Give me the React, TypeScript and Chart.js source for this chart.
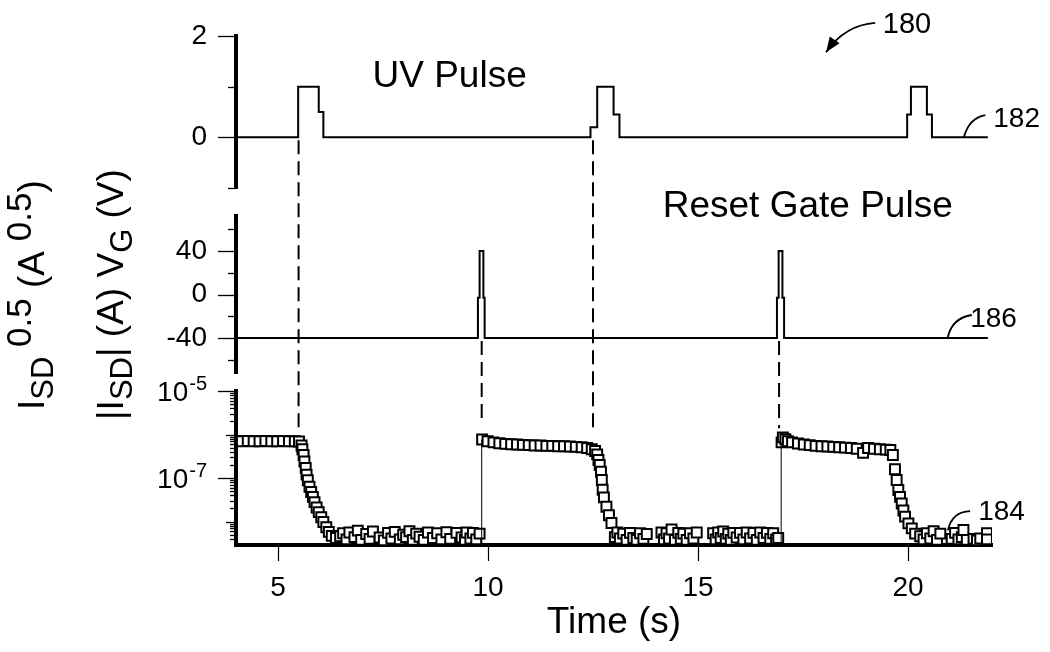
import { useEffect, useRef } from 'react';
import { Chart, registerables } from 'chart.js';

Chart.register(...registerables);

const FONT = "'Liberation Sans', Arial, Helvetica, sans-serif";
Chart.defaults.font.family = FONT;
Chart.defaults.color = '#000';

// ---------------- data ----------------
const xTickValues = [5, 10, 15, 20];

// UV pulse (top panel)
const uvTime = [4.0, 5.48, 5.48, 5.97, 5.97, 6.08, 6.08, 12.44, 12.44, 12.6, 12.6, 12.99, 12.99, 13.13, 13.13, 19.98, 19.98, 20.07, 20.07, 20.45, 20.45, 20.57, 20.57, 21.9];
const uvLevel = [0, 0, 1, 1, 0.5, 0.5, 0, 0, 0.2, 0.2, 1, 1, 0.45, 0.45, 0, 0, 0.45, 0.45, 1, 1, 0.45, 0.45, 0, 0];
const uvTickValues = [0, 2];
const uvMinorTicks = [-1, 1];

// Reset gate pulse V_G (middle panel)
const vgTime = [4.0, 9.76, 9.76, 9.8, 9.8, 9.89, 9.89, 9.92, 9.92, 16.88, 16.88, 16.92, 16.92, 17.01, 17.01, 17.05, 17.05, 21.9];
const vgLevel = [-40, -40, -3, -3, 40, 40, -3, -3, -40, -40, -3, -3, 40, 40, -3, -3, -40, -40];
const vgTickValues = [-40, 0, 40];
const vgMinorTicks = [-60, -20, 20, 60];

// |I_SD| (bottom panel, log)
const iTime = [
  4.0, 4.14, 4.28, 4.42, 4.56, 4.7, 4.84, 4.98, 5.12, 5.26, 5.4, 5.5,
  5.56, 5.58, 5.61, 5.63, 5.66, 5.68, 5.71, 5.75, 5.79, 5.83, 5.87, 5.92, 5.97, 6.03, 6.08, 6.15, 6.21, 6.28, 6.38,
  6.48, 6.55, 6.63, 6.7, 6.82, 6.9, 6.98, 7.1, 7.18, 7.26, 7.42, 7.52, 7.62, 7.7, 7.78, 7.9, 7.98, 8.05, 8.13, 8.21, 8.29, 8.37, 8.47, 8.57, 8.69, 8.79, 8.89, 9.01, 9.1, 9.25, 9.37, 9.45, 9.49, 9.58, 9.64, 9.72, 9.8,
  9.86, 9.99, 10.13, 10.27, 10.41, 10.55, 10.69, 10.83, 10.97, 11.11, 11.25, 11.39, 11.53, 11.67, 11.81, 11.95, 12.09, 12.23, 12.36, 12.47, 12.55,
  12.6, 12.63, 12.66, 12.69, 12.71, 12.73, 12.76, 12.82, 12.88, 12.94,
  13.02, 13.08, 13.14, 13.22, 13.3, 13.38, 13.46, 13.54, 13.62, 13.7, 13.78, 14.13, 14.19, 14.25, 14.31, 14.37, 14.45, 14.53, 14.59, 14.65, 14.73, 14.81, 14.89, 14.97,
  15.36, 15.42, 15.48, 15.54, 15.6, 15.66, 15.72, 15.78, 15.84, 15.92, 16.0, 16.08, 16.16, 16.24, 16.32, 16.4, 16.48, 16.56, 16.64, 16.72, 16.79, 16.86, 16.91,
  16.99, 17.02, 17.08, 17.14, 17.24, 17.38, 17.52, 17.66, 17.8, 17.94, 18.08, 18.22, 18.36, 18.5, 18.64, 18.78, 18.93, 19.05, 19.19, 19.33, 19.47, 19.58, 19.64,
  19.69, 19.73, 19.77, 19.81, 19.85, 19.89, 19.93, 20.01, 20.09, 20.17, 20.29,
  20.37, 20.45, 20.53, 20.61, 20.69, 20.77, 21.04, 21.12, 21.2, 21.28, 21.32, 21.4, 21.56, 21.64, 21.72, 21.88, 21.88,
];
const iCurrent = [
  7.1e-7, 7.0e-7, 7.1e-7, 7.0e-7, 7.0e-7, 7.1e-7, 7.0e-7, 7.0e-7, 7.1e-7, 7.0e-7, 7.0e-7, 6.9e-7,
  5.6e-7, 4.6e-7, 3.4e-7, 2.4e-7, 1.7e-7, 1.2e-7, 8.9e-8, 6.3e-8, 4.8e-8, 3.7e-8, 2.8e-8, 2.1e-8, 1.65e-8, 1.26e-8, 9.8e-9, 7.4e-9, 5.8e-9, 4.7e-9, 4.2e-9,
  4.6e-9, 5.4e-9, 3.9e-9, 5.6e-9, 4.4e-9, 6.2e-9, 3.8e-9, 5.2e-9, 4.0e-9, 5.9e-9, 4.3e-9, 3.7e-9, 5.5e-9, 4.1e-9, 5.8e-9, 3.9e-9, 5.0e-9, 4.4e-9, 6.0e-9, 3.8e-9, 5.3e-9, 4.5e-9, 3.8e-9, 5.6e-9, 4.2e-9, 5.4e-9, 3.9e-9, 5.7e-9, 4.0e-9, 5.5e-9, 4.3e-9, 3.8e-9, 5.6e-9, 4.1e-9, 5.5e-9, 3.9e-9, 5.3e-9,
  7.7e-7, 7.0e-7, 6.6e-7, 6.3e-7, 6.1e-7, 6.0e-7, 5.9e-7, 5.8e-7, 5.7e-7, 5.6e-7, 5.6e-7, 5.5e-7, 5.5e-7, 5.4e-7, 5.4e-7, 5.3e-7, 5.2e-7, 5.1e-7, 4.9e-7, 4.6e-7, 4.2e-7,
  3.5e-7, 2.6e-7, 2.0e-7, 1.4e-7, 9.0e-8, 5.4e-8, 3.6e-8, 2.2e-8, 1.4e-8, 9.3e-9,
  4.4e-9, 5.6e-9, 4.1e-9, 5.3e-9, 3.8e-9, 5.5e-9, 4.2e-9, 3.8e-9, 5.4e-9, 4.0e-9, 5.2e-9, 5.6e-9, 3.9e-9, 5.4e-9, 4.1e-9, 6.6e-9, 3.8e-9, 5.5e-9, 4.0e-9, 5.3e-9, 3.8e-9, 5.4e-9, 4.1e-9, 5.6e-9,
  5.4e-9, 3.9e-9, 5.6e-9, 4.2e-9, 5.9e-9, 4.0e-9, 5.3e-9, 3.8e-9, 5.5e-9, 4.3e-9, 5.5e-9, 3.9e-9, 5.6e-9, 4.1e-9, 5.5e-9, 3.8e-9, 5.6e-9, 4.2e-9, 5.5e-9, 4.0e-9, 5.4e-9, 3.9e-9, 4.2e-9,
  6.6e-7, 8.6e-7, 7.8e-7, 7.0e-7, 6.6e-7, 6.2e-7, 5.9e-7, 5.7e-7, 5.5e-7, 5.4e-7, 5.3e-7, 5.2e-7, 5.1e-7, 5.0e-7, 4.9e-7, 4.7e-7, 3.8e-7, 4.9e-7, 4.7e-7, 4.6e-7, 4.5e-7, 4.4e-7, 3.4e-7,
  1.6e-7, 9.0e-8, 5.3e-8, 3.7e-8, 2.6e-8, 1.8e-8, 1.3e-8, 9.1e-9, 7.0e-9, 5.3e-9, 4.6e-9,
  3.9e-9, 5.4e-9, 4.1e-9, 6.0e-9, 3.8e-9, 5.3e-9, 4.0e-9, 5.5e-9, 3.9e-9, 4.4e-9, 6.4e-9, 3.8e-9, 4.0e-9, 3.7e-9, 4.1e-9, 5.4e-9, 3.9e-9,
];
const resetTime = [9.85, 16.98];
const resetPeak = [7.7e-7, 6.6e-7];
const iLabelExponents = [-5, -7];
const I_MIN = 2.9e-9;
const I_MAX = 1e-5;

// ---------------- annotations ----------------
type Seg = { t: string; k: 'n' | 'sub' | 'sup' };
const titleOuter: Seg[] = [
  { t: 'I', k: 'n' }, { t: 'SD', k: 'sub' }, { t: ' 0.5', k: 'sup' }, { t: ' (A', k: 'n' }, { t: ' 0.5', k: 'sup' }, { t: ')', k: 'n' },
];
const titleInner: Seg[] = [
  { t: '|I', k: 'n' }, { t: 'SD', k: 'sub' }, { t: '|', k: 'n' }, { t: ' (A) V', k: 'n' }, { t: 'G', k: 'sub' }, { t: ' (V)', k: 'n' },
];

const notes = [
  { text: 'UV Pulse', x: 7.25, axis: 'yUV', y: 1.0, size: 37 },
  { text: 'Reset Gate Pulse', x: 14.16, axis: 'yVG', y: 71, size: 37 },
  { text: '180', x: 19.4, axis: 'yUV', y: 2.06, size: 29 },
  { text: '182', x: 22.03, axis: 'yUV', y: 0.2, size: 28 },
  { text: '186', x: 21.48, axis: 'yVG', y: -30, size: 28 },
  { text: '184', x: 21.67, axis: 'yI', y: 1.07e-8, size: 28 },
];
const leaders = [
  { axis: 'yUV', from: [21.33, 0], ctrl: [21.45, 0.38], to: [21.84, 0.44], arrow: false },
  { axis: 'yVG', from: [20.95, -39], ctrl: [21.05, -21.6], to: [21.52, -18.8], arrow: false },
  { axis: 'yI', from: [20.95, 6.3e-9], ctrl: [21.05, 1.7e-8], to: [21.48, 1.74e-8], arrow: false },
  { axis: 'yUV', from: [19.22, 2.26], ctrl: [18.5, 2.22], to: [18.05, 1.68], arrow: true },
];
const connectors = [
  { x: 5.49, fromAxis: 'yUV', from: 0, toAxis: 'yI', to: 1.3e-6 },
  { x: 9.85, fromAxis: 'yVG', from: -40, toAxis: 'yI', to: 1.9e-6 },
  { x: 12.5, fromAxis: 'yUV', from: 0, toAxis: 'yI', to: 1.1e-6 },
  { x: 16.93, fromAxis: 'yVG', from: -40, toAxis: 'yI', to: 1.4e-6 },
];

function drawRich(ctx: any, segs: Seg[], x: number, y: number) {
  ctx.save();
  ctx.translate(x, y);
  ctx.rotate(-Math.PI / 2);
  ctx.textAlign = 'left';
  ctx.textBaseline = 'alphabetic';
  let cx = 0;
  for (const s of segs) {
    const size = s.k === 'n' ? 37 : s.k === 'sub' ? 31 : 35;
    const dy = s.k === 'n' ? 0 : s.k === 'sub' ? 9 : -13;
    ctx.font = `${size}px ${FONT}`;
    ctx.fillText(s.t, cx, dy);
    cx += ctx.measureText(s.t).width;
  }
  ctx.restore();
}

const overlayPlugin = {
  id: 'overlay',
  afterDraw(chart: any) {
    const { ctx, chartArea, scales } = chart;
    const xs = scales.x;
    const S: any = { yUV: scales.yUV, yVG: scales.yVG, yI: scales.yI };
    const left = chartArea.left;
    ctx.save();
    ctx.strokeStyle = '#000';
    ctx.fillStyle = '#000';

    // y tick marks
    ctx.lineWidth = 1.3;
    const mark = (scale: any, v: number, len: number) => {
      const p = Math.round(scale.getPixelForValue(v)) + 0.5;
      ctx.beginPath();
      ctx.moveTo(left - len, p);
      ctx.lineTo(left - 1, p);
      ctx.stroke();
    };
    uvTickValues.forEach((v) => mark(S.yUV, v, 18));
    uvMinorTicks.forEach((v) => mark(S.yUV, v, 8));
    vgTickValues.forEach((v) => mark(S.yVG, v, 18));
    vgMinorTicks.forEach((v) => mark(S.yVG, v, 8));
    S.yI.ticks.forEach((t: any) => {
      const v = t.value;
      if (v < I_MIN * 0.999 || v > I_MAX * 1.001) return;
      const e = Math.floor(Math.log10(v) + 1e-9);
      const m = v / Math.pow(10, e);
      if (Math.abs(m - Math.round(m)) > 0.02) return;
      if (Math.round(m) === 1) mark(S.yI, v, iLabelExponents.includes(e) ? 18 : 10);
      else mark(S.yI, v, 6);
    });

    // log labels 10^e
    iLabelExponents.forEach((e) => {
      const p = S.yI.getPixelForValue(Math.pow(10, e));
      const right = left - 29;
      ctx.textAlign = 'right';
      ctx.textBaseline = 'alphabetic';
      ctx.font = `20px ${FONT}`;
      const sup = String(e);
      const sw = ctx.measureText(sup).width;
      ctx.fillText(sup, right, p - 1);
      ctx.font = `28px ${FONT}`;
      ctx.fillText('10', right - sw - 1, p + 10);
    });

    // axis titles
    drawRich(ctx, titleOuter, left - 192, chartArea.top + 374);
    drawRich(ctx, titleInner, left - 113, chartArea.top + 384);

    // dashed connectors
    ctx.lineWidth = 2;
    ctx.setLineDash([14, 7]);
    connectors.forEach((c) => {
      const px = xs.getPixelForValue(c.x);
      ctx.beginPath();
      ctx.moveTo(px, S[c.fromAxis].getPixelForValue(c.from) + 3);
      ctx.lineTo(px, S[c.toAxis].getPixelForValue(c.to));
      ctx.stroke();
    });
    ctx.setLineDash([]);

    // leader curves and arrow
    ctx.lineWidth = 1.8;
    leaders.forEach((l) => {
      const sc = S[l.axis];
      const p0 = [xs.getPixelForValue(l.from[0]), sc.getPixelForValue(l.from[1])];
      const pc = [xs.getPixelForValue(l.ctrl[0]), sc.getPixelForValue(l.ctrl[1])];
      const p1 = [xs.getPixelForValue(l.to[0]), sc.getPixelForValue(l.to[1])];
      ctx.beginPath();
      ctx.moveTo(p0[0], p0[1]);
      ctx.quadraticCurveTo(pc[0], pc[1], p1[0], p1[1]);
      ctx.stroke();
      if (l.arrow) {
        const a = Math.atan2(p1[1] - pc[1], p1[0] - pc[0]);
        const len = 15;
        const w = 6;
        ctx.beginPath();
        ctx.moveTo(p1[0], p1[1]);
        ctx.lineTo(p1[0] - len * Math.cos(a) + w * Math.sin(a), p1[1] - len * Math.sin(a) - w * Math.cos(a));
        ctx.lineTo(p1[0] - len * Math.cos(a) - w * Math.sin(a), p1[1] - len * Math.sin(a) + w * Math.cos(a));
        ctx.closePath();
        ctx.fill();
      }
    });

    // text notes
    ctx.textAlign = 'left';
    ctx.textBaseline = 'alphabetic';
    notes.forEach((n) => {
      ctx.font = `${n.size}px ${FONT}`;
      ctx.fillText(n.text, xs.getPixelForValue(n.x), S[n.axis].getPixelForValue(n.y));
    });

    ctx.restore();
  },
};

const yBase = (weight: number) => ({
  position: 'left',
  stack: 'panels',
  stackWeight: weight,
  grid: { display: false, drawTicks: false },
  afterFit: (s: any) => {
    s.width = 100;
    s.paddingTop = 0;
    s.paddingBottom = 0;
  },
});

export default function App() {
  const ref = useRef<HTMLCanvasElement | null>(null);

  useEffect(() => {
    if (!ref.current) return;
    const line = (xs: number[], ys: number[], axis: string) => ({
      data: xs.map((t, i) => ({ x: t, y: ys[i] })),
      yAxisID: axis,
      xAxisID: 'x',
      showLine: true,
      borderColor: '#000',
      borderWidth: 2,
      pointRadius: 0,
      fill: false,
    });
    const resetSets = resetTime.map((t, i) => ({
      data: [{ x: t, y: I_MIN }, { x: t, y: resetPeak[i] }],
      yAxisID: 'yI',
      xAxisID: 'x',
      showLine: true,
      borderColor: '#000',
      borderWidth: 1,
      pointRadius: 0,
    }));
    const chart = new Chart(ref.current, {
      type: 'scatter',
      data: {
        datasets: [
          ...resetSets,
          {
            data: iTime.map((t, i) => ({ x: t, y: iCurrent[i] })),
            yAxisID: 'yI',
            xAxisID: 'x',
            showLine: false,
            pointStyle: 'rect',
            pointRadius: 7,
            pointBorderWidth: 2,
            pointBorderColor: '#000',
            pointBackgroundColor: '#fff',
          },
          line(uvTime, uvLevel, 'yUV'),
          line(vgTime, vgLevel, 'yVG'),
        ] as any,
      },
      options: {
        animation: false,
        responsive: false,
        devicePixelRatio: 1,
        layout: { padding: { left: 136, top: 36, right: 58, bottom: 0 } },
        plugins: { legend: { display: false }, tooltip: { enabled: false } },
        scales: {
          x: {
            type: 'linear',
            min: 4,
            max: 22,
            afterBuildTicks: (s: any) => {
              s.ticks = xTickValues.map((v) => ({ value: v }));
            },
            afterFit: (s: any) => {
              s.height = 107;
            },
            grid: { display: true, drawOnChartArea: false, tickLength: 16, tickWidth: 1.2, tickColor: '#000' },
            border: { display: true, width: 4, color: '#000' },
            ticks: { font: { size: 28 }, padding: 10, color: '#000', callback: (v: any) => String(v) },
            title: { display: true, text: 'Time (s)', font: { size: 37 }, color: '#000', padding: { top: 0, bottom: 7 } },
          },
          yI: {
            ...yBase(154),
            type: 'logarithmic',
            min: I_MIN,
            max: I_MAX,
            ticks: { display: false },
            border: { display: true, width: 4, color: '#000' },
          },
          gap2: {
            ...yBase(18),
            type: 'linear',
            ticks: { display: false },
            border: { display: false },
          },
          yVG: {
            ...yBase(157),
            type: 'linear',
            min: -72,
            max: 72,
            afterBuildTicks: (s: any) => {
              s.ticks = vgTickValues.map((v) => ({ value: v }));
            },
            ticks: { font: { size: 28 }, padding: 29, color: '#000', callback: (v: any) => String(v) },
            border: { display: true, width: 4, color: '#000' },
          },
          gap1: {
            ...yBase(28),
            type: 'linear',
            ticks: { display: false },
            border: { display: false },
          },
          yUV: {
            ...yBase(152),
            type: 'linear',
            min: -1,
            max: 2,
            afterBuildTicks: (s: any) => {
              s.ticks = uvTickValues.map((v) => ({ value: v }));
            },
            ticks: { font: { size: 28 }, padding: 29, color: '#000', callback: (v: any) => String(v) },
            border: { display: true, width: 4, color: '#000' },
          },
        } as any,
      },
      plugins: [overlayPlugin],
    } as any);
    return () => chart.destroy();
  }, []);

  return (
    <div style={{ position: 'fixed', left: 0, top: 0, width: 1050, height: 652, background: '#fff' }}>
      <canvas ref={ref} width={1050} height={652} style={{ display: 'block' }} />
    </div>
  );
}
